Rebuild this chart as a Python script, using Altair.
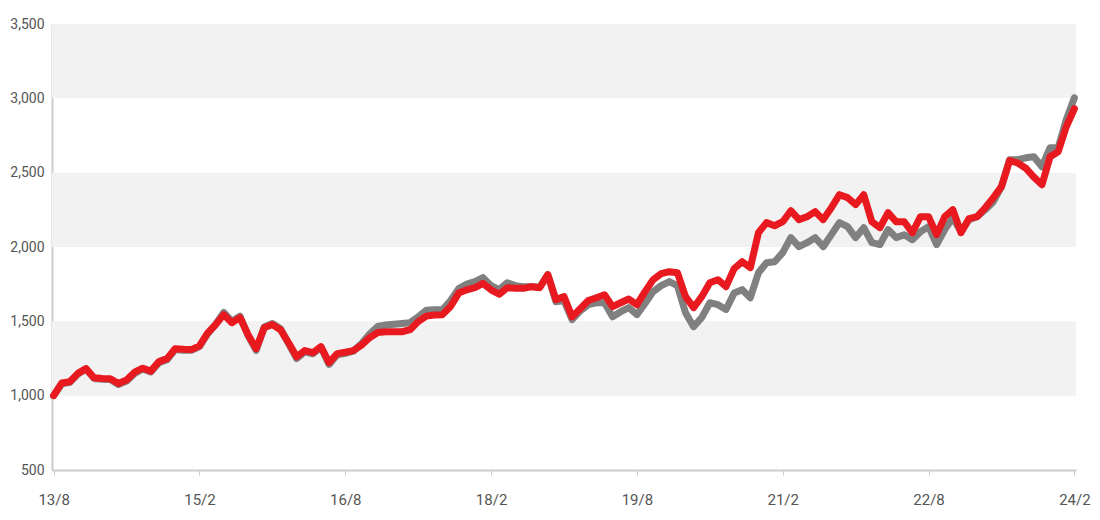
import altair as alt
import pandas as pd

# Monthly observations, Aug 2013 (index 0) .. Feb 2024 (index 126)
red_values = [
    1000, 1085, 1094, 1150, 1182, 1120, 1115, 1114, 1082, 1105,
    1158, 1185, 1165, 1229, 1249, 1316, 1312, 1310, 1335, 1420,
    1478, 1545, 1491, 1525, 1410, 1316, 1457, 1478, 1444, 1356,
    1262, 1303, 1289, 1330, 1222, 1283, 1292, 1303, 1340, 1390,
    1425, 1430, 1430, 1430, 1444, 1498, 1535, 1542, 1545, 1600,
    1690, 1712, 1726, 1755, 1712, 1682, 1726, 1722, 1722, 1733,
    1726, 1814, 1646, 1666, 1530, 1585, 1640, 1659, 1679, 1599,
    1625, 1650, 1612, 1700, 1780, 1821, 1834, 1827, 1666, 1592,
    1666, 1760, 1780, 1733, 1855, 1901, 1861, 2096, 2164, 2143,
    2170, 2244, 2184, 2204, 2238, 2184, 2264, 2352, 2332, 2285,
    2352, 2170, 2130, 2231, 2170, 2170, 2096, 2204, 2204, 2083,
    2204, 2251, 2096, 2191, 2204, 2264, 2332, 2406, 2581, 2565,
    2530, 2470, 2419, 2607, 2641, 2809, 2930,
]

gray_values = [
    1000, 1080, 1090, 1145, 1180, 1115, 1110, 1108, 1075, 1098,
    1150, 1180, 1160, 1222, 1242, 1310, 1305, 1305, 1330, 1415,
    1480, 1560, 1500, 1535, 1405, 1305, 1462, 1485, 1450, 1350,
    1250, 1295, 1282, 1325, 1210, 1275, 1285, 1300, 1350, 1415,
    1465, 1475, 1480, 1485, 1491, 1530, 1575, 1578, 1578, 1640,
    1720, 1750, 1767, 1794, 1740, 1713, 1760, 1740, 1733, 1735,
    1730, 1814, 1632, 1640, 1511, 1570, 1612, 1625, 1625, 1531,
    1565, 1592, 1545, 1620, 1700, 1740, 1767, 1740, 1558, 1464,
    1525, 1625, 1612, 1580, 1690, 1713, 1659, 1827, 1894, 1901,
    1962, 2063, 2002, 2029, 2063, 2002, 2083, 2164, 2137, 2063,
    2130, 2029, 2016, 2117, 2063, 2083, 2049, 2103, 2137, 2016,
    2117, 2197, 2103, 2184, 2204, 2251, 2305, 2406, 2587, 2587,
    2600, 2607, 2540, 2668, 2668, 2856, 3004,
]

tick_labels = ["13/8", "15/2", "16/8", "18/2", "19/8", "21/2", "22/8", "24/2"]
tick_positions = [0, 18, 36, 54, 72, 90, 108, 126]

band_low = [1000, 2000, 3000]
band_high = [1500, 2500, 3500]

y_ticks = [500, 1000, 1500, 2000, 2500, 3000, 3500]

months = list(range(len(red_values)))
df_red = pd.DataFrame({"m": months, "v": red_values})
df_gray = pd.DataFrame({"m": months, "v": gray_values})
df_bands = pd.DataFrame({"lo": band_low, "hi": band_high})

label_expr = "[" + ",".join("'%s'" % t for t in tick_labels) + "][round(datum.value / 18)]"

FONT = "Roboto"

x_scale = alt.Scale(domain=[-0.2, 126.2], nice=False, zero=False)
y_scale = alt.Scale(domain=[500, 3500], nice=False, zero=False)

x_axis = alt.Axis(
    values=tick_positions,
    labelExpr=label_expr,
    title=None,
    grid=False,
    domainColor="#cccccc",
    domainWidth=2,
    tickColor="#cccccc",
    tickSize=5,
    tickWidth=1,
    labelFont=FONT,
    labelFontSize=15,
    labelColor="#555555",
    labelPadding=17,
    labelFlush=False,
)

y_axis = alt.Axis(
    values=y_ticks,
    format=",.0f",
    title=None,
    grid=False,
    ticks=False,
    domainColor="#cccccc",
    domainWidth=2,
    labelFont=FONT,
    labelFontSize=14,
    labelColor="#555555",
    labelPadding=8,
    labelFlush=False,
)

bands = alt.Chart(df_bands).mark_rect(color="#f2f2f2").encode(
    y=alt.Y("lo:Q", scale=y_scale, axis=y_axis),
    y2="hi:Q",
)

gray_line = alt.Chart(df_gray).mark_line(
    color="#808080", strokeWidth=7, strokeCap="round", strokeJoin="round"
).encode(
    x=alt.X("m:Q", scale=x_scale, axis=x_axis),
    y=alt.Y("v:Q", scale=y_scale, axis=y_axis),
)

red_line = alt.Chart(df_red).mark_line(
    color="#e8191f", strokeWidth=7, strokeCap="round", strokeJoin="round"
).encode(
    x=alt.X("m:Q", scale=x_scale, axis=x_axis),
    y=alt.Y("v:Q", scale=y_scale, axis=y_axis),
)

chart = alt.layer(bands, gray_line, red_line).properties(
    width=1024,
    height=446,
    autosize="none",
    padding={"left": 44, "top": 16, "right": 16, "bottom": 40},
).configure_view(stroke=None)

chart.save("out.html", embed_options={"renderer": "svg", "actions": False})
